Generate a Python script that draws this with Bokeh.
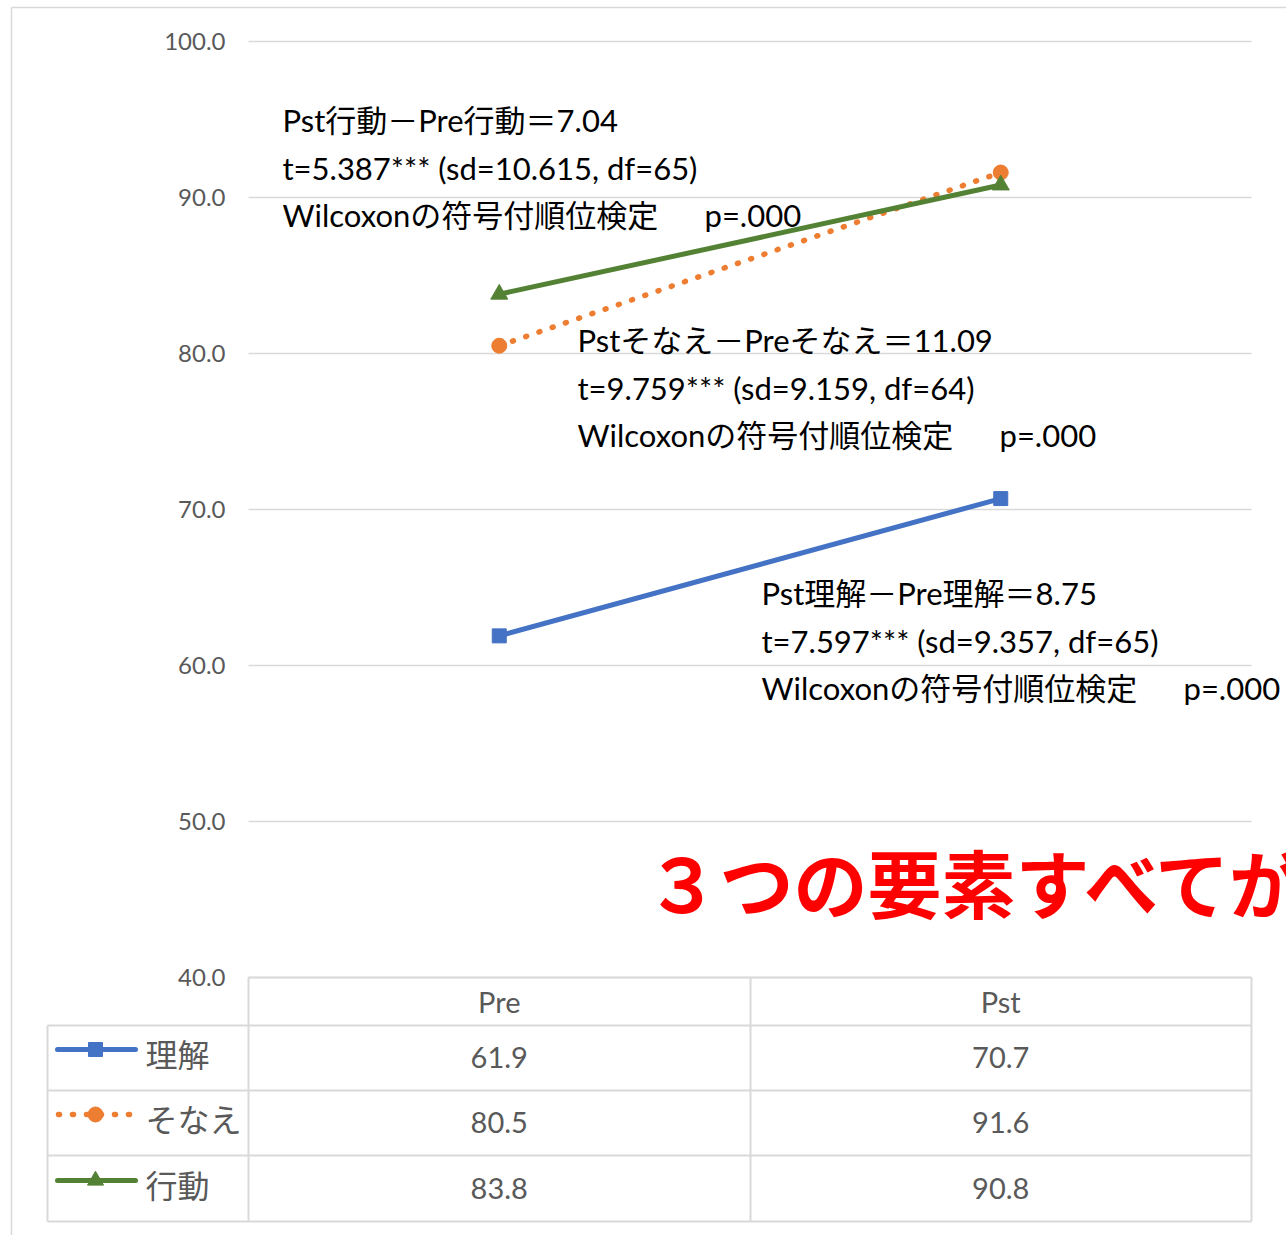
import math
from bokeh.plotting import figure
from bokeh.models import Range1d, Label
from bokeh.core.properties import value
from bokeh.embed import file_html
from bokeh.resources import INLINE

# ---------------- data ----------------
categories = ["Pre", "Pst"]
series_names = ["理解", "そなえ", "行動"]
rikai = [61.9, 70.7]
sonae = [80.5, 91.6]
koudou = [83.8, 90.8]
y_ticks = [40, 50, 60, 70, 80, 90, 100]
y_tick_labels = ["40.0", "50.0", "60.0", "70.0", "80.0", "90.0", "100.0"]

notes_koudou = ["Pst行動－Pre行動＝7.04", "t=5.387*** (sd=10.615, df=65)", "Wilcoxonの符号付順位検定", "p=.000"]
notes_sonae = ["Pstそなえ－Preそなえ＝11.09", "t=9.759*** (sd=9.159, df=64)", "Wilcoxonの符号付順位検定", "p=.000"]
notes_rikai = ["Pst理解－Pre理解＝8.75", "t=7.597*** (sd=9.357, df=65)", "Wilcoxonの符号付順位検定", "p=.000"]
headline = "３つの要素すべてが"

# ---------------- styles ----------------
BLUE, ORANGE, GREEN = "#4472C4", "#ED7D31", "#548235"
GRID = "#d9d9d9"
GRAY = "#595959"
LAT = "Lato, 'Noto Sans CJK JP'"
JP = "'Noto Sans CJK JP'"

W, H = 1286, 1235
PL, PR = 248, 1251          # plot area (category band) in pixels
PX_X = (PR - PL) / 2.0
PPU = (977 - 41) / 60.0


def X(px):
    return (px - PL) / PX_X


def Y(py):
    return 40 + (977 - py) / PPU


p = figure(width=W, height=H, output_backend="svg", toolbar_location=None,
           x_range=Range1d(X(0), X(W)), y_range=Range1d(Y(H), Y(0)),
           x_axis_location=None, y_axis_location=None,
           min_border_left=0, min_border_right=0, min_border_top=0, min_border_bottom=0)
p.outline_line_color = None
p.background_fill_color = "white"
p.border_fill_color = "white"
p.grid.visible = False

# value-axis gridlines and tick labels
p.segment(x0=[0] * len(y_ticks), x1=[2] * len(y_ticks), y0=y_ticks, y1=y_ticks,
          line_color=GRID, line_width=1.5)
p.text(x=[X(225)] * len(y_ticks), y=y_ticks, text=y_tick_labels, text_align="right",
       text_baseline="middle", text_font_size="24px", text_color=GRAY, text_font=value("Lato"))

# series
xs = [0.5, 1.5]
p.line(xs, rikai, line_color=BLUE, line_width=5)
p.scatter(xs, rikai, marker="square", size=14, color=BLUE)
p.line(xs, sonae, line_color=ORANGE, line_width=5.5, line_dash="1 13", line_cap="round")
p.scatter(xs, sonae, marker="circle", size=15, color=ORANGE)
p.line(xs, koudou, line_color=GREEN, line_width=5)
p.scatter(xs, koudou, marker="triangle", size=17, color=GREEN)


def label(px, py, text, size="31px", color="black", font=LAT, style="normal", align="left"):
    p.add_layout(Label(x=X(px), y=Y(py), text=text, text_font_size=size, text_color=color,
                       text_font=font, text_font_style=style, text_align=align,
                       text_baseline="middle"))


def seg(x0, y0, x1, y1, color=GRID, width=2, dash="solid", cap="butt"):
    p.segment(x0=[X(x0)], y0=[Y(y0)], x1=[X(x1)], y1=[Y(y1)],
              line_color=color, line_width=width, line_dash=dash, line_cap=cap)


# notes
for (x0, y0, pxp), notes in [((282, 119, 704), notes_koudou), ((577, 339, 999), notes_sonae),
                             ((761, 592, 1183), notes_rikai)]:
    label(x0, y0, notes[0])
    label(x0, y0 + 48, notes[1])
    label(x0, y0 + 95, notes[2])
    label(pxp, y0 + 95, notes[3])

label(645, 880, headline, size="74px", color="#FF0000", font=JP, style="bold")

# outer chart border
seg(11, 7, 11, 1235, width=1.5)
seg(11, 7, 1286, 7, width=1.5)

# data table grid
seg(248, 977, 1251, 977)
for yy in [1025, 1090, 1155, 1221]:
    seg(47, yy, 1251, yy)
seg(47, 1025, 47, 1221)
for xx in [248, 750, 1251]:
    seg(xx, 977, xx, 1221)

# table text
p.text(x=xs, y=[Y(1001)] * 2, text=categories, text_align="center", text_baseline="middle",
       text_font_size="29px", text_color=GRAY, text_font=value("Lato"))
row_px = [1057, 1122, 1188]
for vals, ry in zip([rikai, sonae, koudou], row_px):
    p.text(x=xs, y=[Y(ry)] * 2, text=["%.1f" % v for v in vals], text_align="center",
           text_baseline="middle", text_font_size="29px", text_color=GRAY, text_font=value("Lato"))

# legend column of the data table
colors = [BLUE, ORANGE, GREEN]
markers = ["square", "circle", "triangle"]
msizes = [14, 15, 16]
for i, (name, col) in enumerate(zip(series_names, colors)):
    cy = row_px[i] - 8
    if i == 1:
        seg(58, cy, 136, cy, color=col, width=5.5, dash="1 13", cap="round")
    else:
        seg(57, cy, 135, cy, color=col, width=5, cap="round")
    p.scatter(x=[X(95)], y=[Y(cy)], marker=markers[i], size=msizes[i], color=col)
    label(145, row_px[i] - 5, name, size="32px", color=GRAY, font=JP)

open("out.html", "w").write(file_html(p, INLINE))
